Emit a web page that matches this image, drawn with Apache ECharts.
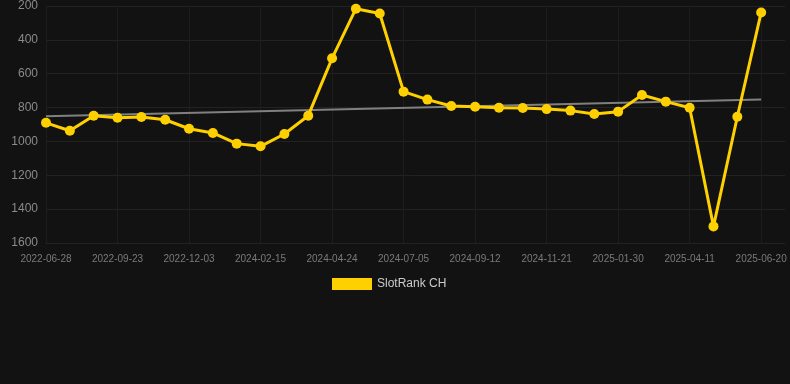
<!DOCTYPE html>
<html>
<head>
<meta charset="utf-8">
<script src="https://cdn.jsdelivr.net/npm/echarts@6/dist/echarts.min.js"></script>
<style>
html,body{margin:0;padding:0;background:#121212;}
#chart{width:790px;height:384px;}
</style>
</head>
<body>
<div id="chart"></div>
<script>
const categories = [
  "2022-06-28","2022-07-27","2022-08-25","2022-09-23","2022-10-17","2022-11-10",
  "2022-12-03","2023-05-10","2023-10-01","2024-02-15","2024-03-09","2024-04-01",
  "2024-04-24","2024-05-17","2024-06-11","2024-07-05","2024-07-28","2024-08-20",
  "2024-09-12","2024-10-05","2024-10-28","2024-11-21","2024-12-14","2025-01-06",
  "2025-01-30","2025-02-22","2025-03-18","2025-04-11","2025-05-04","2025-05-27",
  "2025-06-20"
];
const rankValues = [
  890, 937, 848, 860, 856, 872,
  925, 950, 1013, 1029, 956, 848,
  509, 216, 244, 706, 753, 791,
  795, 801, 803, 809, 818, 838,
  824, 726, 765, 801, 1502, 854,
  238
];
const trendStart = 852;
const trendEnd = 752;
const yTicks = { min: 200, max: 1600, step: 200 };

const trendValues = categories.map((c, i) =>
  i === 0 ? trendStart : (i === categories.length - 1 ? trendEnd : null));

const chart = echarts.init(document.getElementById('chart'), null, { renderer: 'canvas' });
chart.setOption({
  backgroundColor: '#121212',
  animation: false,
  grid: { left: 46, right: 5, top: 6, bottom: 141, containLabel: false },
  legend: {
    data: [{ name: 'SlotRank CH', icon: 'rect' }],
    left: 327,
    top: 273,
    itemWidth: 40,
    itemHeight: 12,
    itemGap: 10,
    textStyle: { color: '#cccccc', fontSize: 12, fontFamily: 'Liberation Sans, Arial, sans-serif' }
  },
  xAxis: {
    type: 'category',
    data: categories,
    boundaryGap: false,
    max: categories.length,
    axisLine: { show: false },
    axisTick: { show: false },
    axisLabel: {
      interval: 2,
      color: '#7a7a7a',
      fontSize: 10,
      margin: 11,
      fontFamily: 'Liberation Sans, Arial, sans-serif'
    },
    splitLine: { show: true, interval: 2, lineStyle: { color: '#1d1d1d', width: 1 } }
  },
  yAxis: {
    type: 'value',
    inverse: true,
    min: yTicks.min,
    max: yTicks.max,
    interval: yTicks.step,
    axisLine: { show: false },
    axisTick: { show: false },
    axisLabel: {
      color: '#8a8a8a',
      fontSize: 12,
      margin: 8,
      formatter: (v) => String(v),
      fontFamily: 'Liberation Sans, Arial, sans-serif'
    },
    splitLine: { show: true, lineStyle: { color: '#222222', width: 1 } }
  },
  series: [
    {
      name: 'SlotRank CH',
      type: 'line',
      data: rankValues,
      symbol: 'circle',
      symbolSize: 10,
      itemStyle: { color: '#ffd000' },
      lineStyle: { color: '#ffd000', width: 3 },
      z: 3
    },
    {
      name: 'Trend',
      type: 'line',
      data: trendValues,
      connectNulls: true,
      symbol: 'none',
      lineStyle: { color: '#808080', width: 2 },
      z: 2
    }
  ]
});
</script>
</body>
</html>
